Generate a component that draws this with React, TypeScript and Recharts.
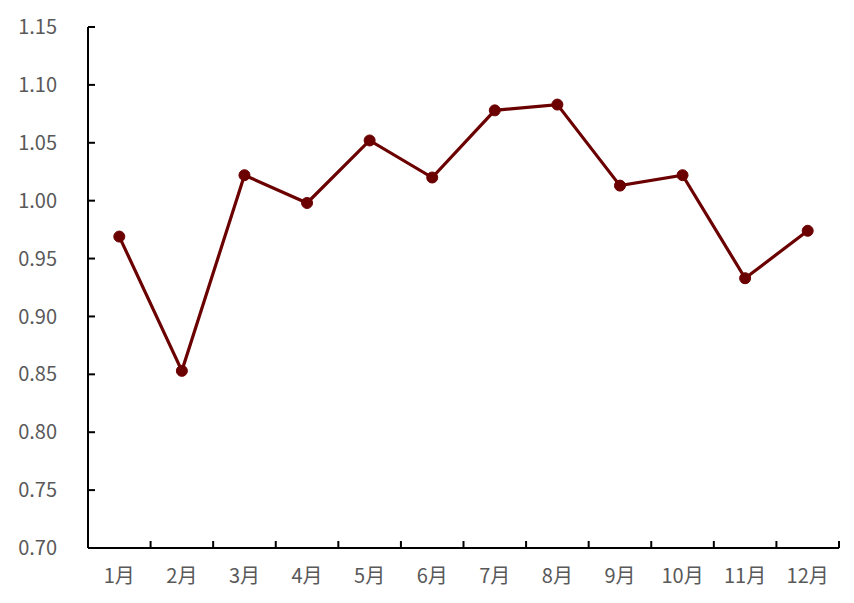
import React from 'react';
import { LineChart, Line, XAxis, YAxis } from 'recharts';

const months = ['1月', '2月', '3月', '4月', '5月', '6月', '7月', '8月', '9月', '10月', '11月', '12月'];
const values = [0.969, 0.853, 1.022, 0.998, 1.052, 1.020, 1.078, 1.083, 1.013, 1.022, 0.933, 0.974];
const yTicks = [0.7, 0.75, 0.8, 0.85, 0.9, 0.95, 1.0, 1.05, 1.1, 1.15];

const data = months.map((m, i) => ({ x: i + 0.5, month: m, value: values[i] }));
const boundaryTicks = months.map((_, i) => i).concat(months.length);
const centerTicks = months.map((_, i) => i + 0.5);

const font = '"Microsoft YaHei", "Noto Sans CJK SC", "Noto Sans", sans-serif';
const tickStyle = { fill: '#595959', fontSize: 20, fontFamily: font };
const axisStroke = { stroke: '#000', strokeWidth: 2 };
const NoLabel = () => <g />;

// y tick: label plus a short inward tick mark on the axis line
const Y_GAP = 31; // tickSize (6) + tickMargin (25)
const YTick = (props: any) => {
  const { x, y, payload } = props;
  const ax = x + Y_GAP;
  return (
    <g>
      <line x1={ax} x2={ax + 7} y1={y} y2={y} stroke="#000" strokeWidth={2} />
      <text x={x} y={y} dy="0.355em" textAnchor="end" {...tickStyle}>
        {Number(payload.value).toFixed(2)}
      </text>
    </g>
  );
};

export default function App() {
  return (
    <div style={{ position: 'absolute', left: 0, top: 0, width: 854, height: 603, background: '#fff' }}>
      <LineChart width={854} height={603} data={data} margin={{ top: 27, right: 15, bottom: 0, left: 0 }}>
        {/* labels */}
        <XAxis
          xAxisId="labels"
          dataKey="x"
          type="number"
          domain={[0, 12]}
          ticks={centerTicks}
          height={55}
          axisLine={false}
          tickLine={false}
          tickMargin={15}
          tick={tickStyle}
          tickFormatter={(v: number) => months[Math.round(v - 0.5)]}
          interval={0}
        />
        {/* inward tick marks at category boundaries */}
        <XAxis
          xAxisId="marks"
          dataKey="x"
          type="number"
          domain={[0, 12]}
          ticks={boundaryTicks}
          mirror
          tick={NoLabel}
          tickSize={7}
          axisLine={axisStroke}
          tickLine={axisStroke}
          interval={0}
        />
        <YAxis
          width={88}
          type="number"
          domain={[0.7, 1.15]}
          ticks={yTicks}
          interval={0}
          tickLine={false}
          axisLine={axisStroke}
          tickSize={6}
          tickMargin={25}
          tick={YTick}
        />
        <Line
          xAxisId="labels"
          dataKey="value"
          stroke="#6b0000"
          strokeWidth={3.2}
          dot={{ r: 5.5, fill: '#6b0000', stroke: '#6b0000', strokeWidth: 1 }}
          isAnimationActive={false}
        />
      </LineChart>
    </div>
  );
}
